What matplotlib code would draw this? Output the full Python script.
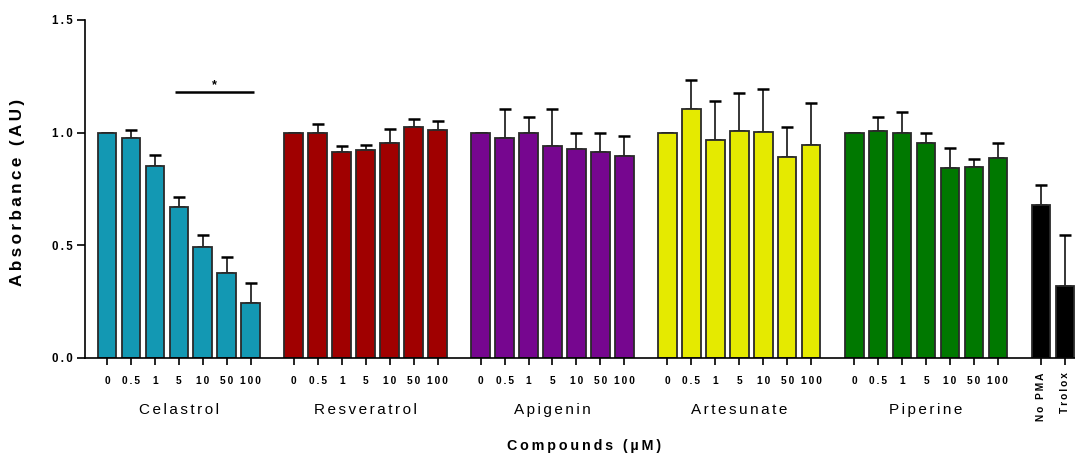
import matplotlib
matplotlib.use("Agg")
import matplotlib.pyplot as plt
import numpy as np

plt.rcParams['font.family'] = ['Liberation Sans', 'DejaVu Sans']

# Concentrations (uM) shared by every compound
doses = ["0", "0.5", "1", "5", "10", "50", "100"]
compounds = ["Celastrol", "Resveratrol", "Apigenin", "Artesunate", "Piperine"]

# Mean absorbance and upper SD for each compound
celastrol = [1.000, 0.975, 0.853, 0.670, 0.493, 0.376, 0.246]
celastrol_err = [0.000, 0.038, 0.049, 0.043, 0.051, 0.074, 0.089]
resveratrol = [1.000, 0.997, 0.912, 0.923, 0.952, 1.025, 1.012]
resveratrol_err = [0.000, 0.042, 0.027, 0.022, 0.063, 0.034, 0.038]
apigenin = [1.000, 0.976, 1.000, 0.939, 0.927, 0.912, 0.896]
apigenin_err = [0.000, 0.131, 0.068, 0.168, 0.073, 0.085, 0.089]
artesunate = [1.000, 1.104, 0.966, 1.007, 1.004, 0.890, 0.945]
artesunate_err = [0.000, 0.129, 0.173, 0.171, 0.189, 0.135, 0.185]
piperine = [1.000, 1.009, 0.998, 0.952, 0.843, 0.846, 0.889]
piperine_err = [0.000, 0.059, 0.095, 0.045, 0.090, 0.035, 0.065]

# Controls
controls = ["No PMA", "Trolox"]
control_vals = [0.677, 0.320]
control_err = [0.089, 0.224]

colors = ["#1398B3", "#A00000", "#76068F", "#E5EA00", "#007800"]
control_color = "#000000"

series = [(celastrol, celastrol_err), (resveratrol, resveratrol_err),
          (apigenin, apigenin_err), (artesunate, artesunate_err),
          (piperine, piperine_err)]

GROUP_STEP = 7.8
BAR_W = 0.78


def spaced(s, sep="\u2009"):
    return sep.join(list(s))


fig = plt.figure(figsize=(10.75, 4.58), dpi=100)
W, H = 1075, 458
ax = fig.add_axes([85 / W, 1 - 358 / H, (1075 - 85) / W, (358 - 20) / H])

tick_pos = []
tick_lab = []
group_centers = []
for g, ((vals, errs), col) in enumerate(zip(series, colors)):
    x = g * GROUP_STEP + np.arange(len(vals))
    ax.bar(x, vals, width=BAR_W, color=col, edgecolor="#2a2a2a", linewidth=1.3, zorder=2)
    ax.errorbar(x, vals, yerr=[np.zeros(len(errs)), errs], fmt="none", ecolor="black",
                elinewidth=1.1, capsize=4, capthick=1.8, zorder=1)
    tick_pos.extend(x)
    tick_lab.extend(doses)
    group_centers.append(x.mean())

xc = len(series) * GROUP_STEP + np.arange(len(control_vals))
ax.bar(xc, control_vals, width=BAR_W, color=control_color, edgecolor="#2a2a2a", linewidth=1.3, zorder=2)
ax.errorbar(xc, control_vals, yerr=[np.zeros(2), control_err], fmt="none", ecolor="black",
            elinewidth=1.1, capsize=4, capthick=1.8, zorder=1)

ax.set_xlim(-0.92, 40.42)
ax.set_ylim(0, 1.5)

for s in ["top", "right"]:
    ax.spines[s].set_visible(False)
for s in ["left", "bottom"]:
    ax.spines[s].set_linewidth(1.2)

ax.set_yticks([0, 0.5, 1.0, 1.5])
ax.set_yticklabels([spaced(f"{v:.1f}") for v in [0, 0.5, 1.0, 1.5]],
                   fontsize=8.3, fontweight="bold")
ax.tick_params(axis="y", direction="out", length=6, width=1.2, pad=3)

ax.set_xticks(list(tick_pos) + list(xc))
ax.set_xticklabels([spaced(t) for t in tick_lab] + ["", ""],
                   fontsize=7.3, fontweight="bold")
ax.tick_params(axis="x", direction="out", length=5, width=1.2, pad=8)

# Control labels, rotated
for xx, lab in zip(xc, controls):
    ax.text(xx, -0.042, spaced(lab), rotation=90, ha="center", va="top",
            fontsize=7.3, fontweight="bold", transform=ax.get_xaxis_transform())

# Compound names under each group
for xg, name in zip(group_centers, compounds):
    ax.text(xg, -(410 - 358) / 338, spaced(name, "\u200a\u200a"), ha="center", va="center",
            fontsize=11, transform=ax.get_xaxis_transform())

# Significance bar across celastrol 5-100 uM
ax.plot([2.83, 6.13], [1.18, 1.18], color="black", lw=1.8, solid_capstyle="butt", zorder=3)
ax.text(4.5, 1.185, "*", ha="center", va="bottom", fontsize=9, fontweight="bold")

fig.text(584 / W, 1 - 446 / H, spaced("Compounds (µM)"), ha="center", va="center",
         fontsize=10.3, fontweight="bold")
fig.text(18 / W, 1 - 192 / H, spaced("Absorbance (AU)"), ha="center", va="center",
         rotation=90, fontsize=12.3, fontweight="bold")

fig.savefig("out.png", dpi=100)
